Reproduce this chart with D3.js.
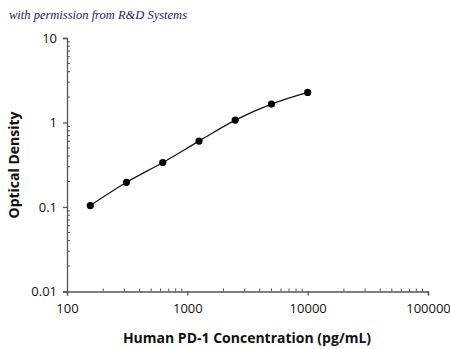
<!DOCTYPE html>
<html><head><meta charset="utf-8">
<script src="https://cdnjs.cloudflare.com/ajax/libs/d3/7.8.5/d3.min.js"></script>
<style>body{margin:0;background:#fff}svg{display:block}</style>
</head><body>
<script>
const concentrations = [156.25, 312.5, 625, 1250, 2500, 5000, 10000];
const opticalDensity = [0.104, 0.196, 0.336, 0.602, 1.067, 1.65, 2.27];
const xTickValues = [100, 1000, 10000, 100000];
const yTickValues = [0.01, 0.1, 1, 10];
const xTitle = "Human PD-1 Concentration (pg/mL)";
const yTitle = "Optical Density";
const credit = "with permission from R&D Systems";

const W = 450, H = 349;
const svg = d3.select("body").append("svg").attr("width", W).attr("height", H);
const x = d3.scaleLog().domain([100, 100000]).range([67, 428]);
const y = d3.scaleLog().domain([0.01, 10]).range([291.5, 38]);
const axisColor = "#555";
const font = "'Open Sans', 'Noto Sans', sans-serif";

svg.append("text").attr("x", 9).attr("y", 19).text(credit)
  .attr("font-family", "'Liberation Serif', serif").attr("font-style", "italic")
  .attr("font-size", 12.5).attr("fill", "#1b1b6a");

// minor ticks
const minorX = [];
for (let d = 100; d < 100000; d *= 10) for (let k = 2; k <= 9; k++) minorX.push(d * k);
const minorY = [];
for (let d = 0.01; d < 9; d *= 10) for (let k = 2; k <= 9; k++) minorY.push(+(d * k).toPrecision(3));

const g = svg.append("g");
g.selectAll(".mx").data(minorX).join("line")
  .attr("x1", d => x(d)).attr("x2", d => x(d)).attr("y1", y(0.01)).attr("y2", y(0.01) - 3)
  .attr("stroke", axisColor).attr("stroke-width", 1);
g.selectAll(".my").data(minorY).join("line")
  .attr("y1", d => y(d)).attr("y2", d => y(d)).attr("x1", x(100)).attr("x2", x(100) + 3)
  .attr("stroke", axisColor).attr("stroke-width", 1);

const xAxis = d3.axisBottom(x).tickValues(xTickValues).tickFormat(d3.format("d")).tickSize(4).tickPadding(8);
const yAxis = d3.axisLeft(y).tickValues(yTickValues).tickFormat(d => d >= 1 ? d3.format("d")(d) : String(d)).tickSize(4).tickPadding(4);

const gx = svg.append("g").attr("transform", `translate(0,${y(0.01)})`).call(xAxis);
const gy = svg.append("g").attr("transform", `translate(${x(100)},0)`).call(yAxis);
[gx, gy].forEach(a => {
  a.select(".domain").attr("stroke", axisColor).attr("stroke-width", 1.3);
  a.selectAll(".tick line").attr("stroke", axisColor).attr("stroke-width", 1.3);
  a.selectAll(".tick text").attr("font-family", font).attr("font-size", 13).attr("fill", "#111");
});
gy.selectAll(".tick text").attr("dx", "-2");

const line = d3.line().x(d => x(d[0])).y(d => y(d[1])).curve(d3.curveMonotoneX);
const pts = concentrations.map((c, i) => [c, opticalDensity[i]]);
svg.append("path").datum(pts).attr("d", line).attr("fill", "none").attr("stroke", "#111").attr("stroke-width", 1.2);
svg.selectAll(".pt").data(pts).join("circle")
  .attr("cx", d => x(d[0])).attr("cy", d => y(d[1])).attr("r", 3.6).attr("fill", "#000");

svg.append("text").attr("x", 247).attr("y", 343).attr("text-anchor", "middle").text(xTitle)
  .attr("font-family", font).attr("font-weight", "bold").attr("font-size", 14).attr("fill", "#111");
svg.append("text").attr("transform", `translate(19,165) rotate(-90)`).attr("text-anchor", "middle").text(yTitle)
  .attr("font-family", font).attr("font-weight", "bold").attr("font-size", 14).attr("fill", "#111");
</script>
</body></html>
